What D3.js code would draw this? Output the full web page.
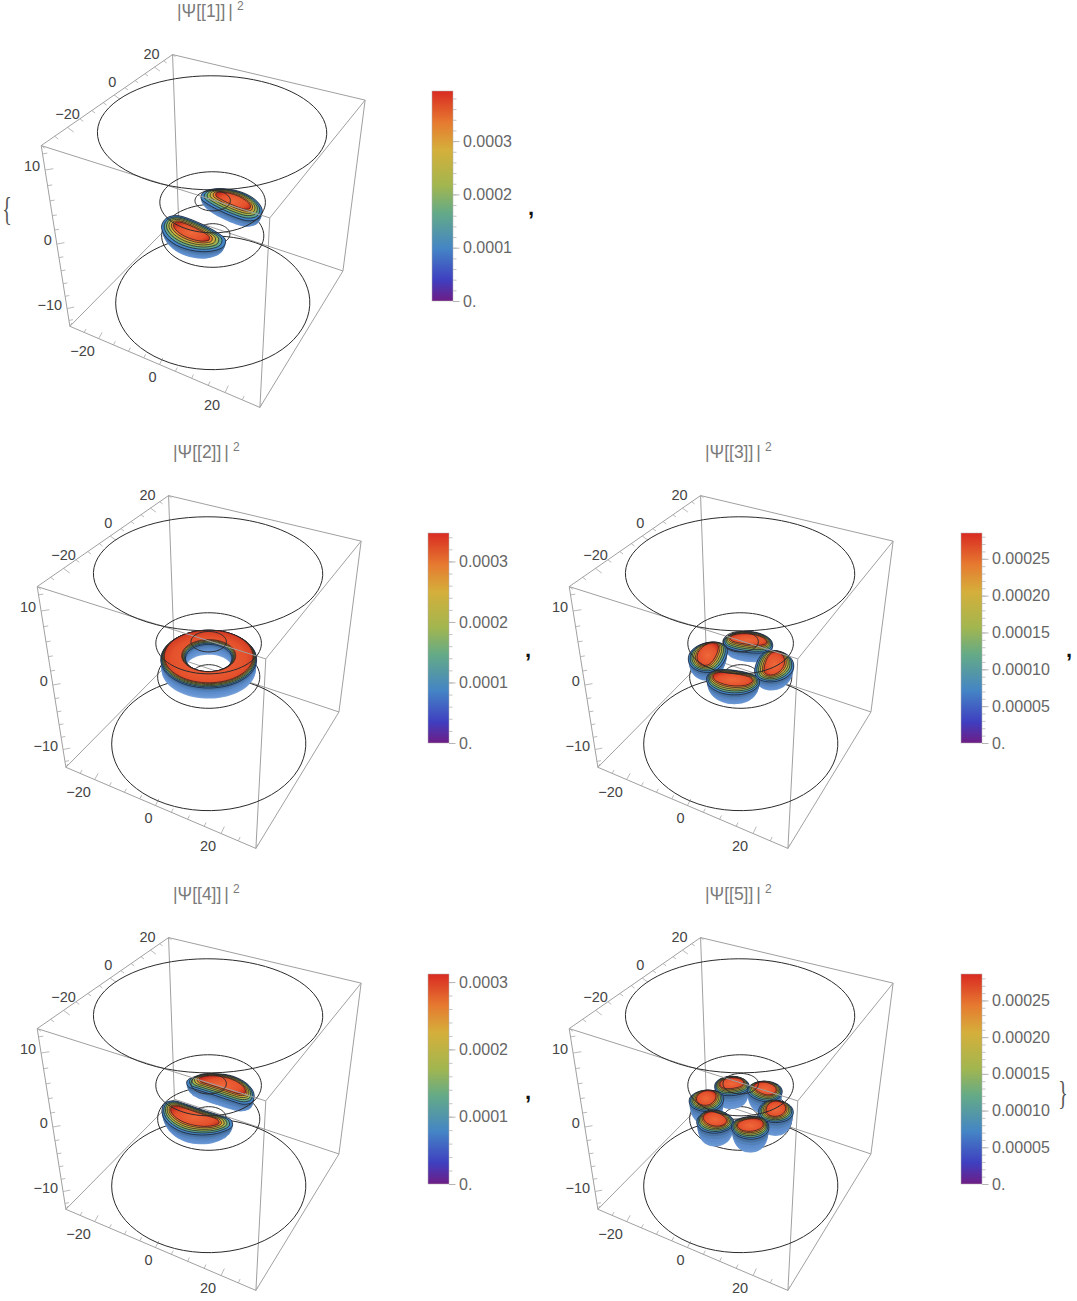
<!DOCTYPE html>
<html><head><meta charset="utf-8">
<script src="https://cdn.jsdelivr.net/npm/d3@7"></script>
<style>html,body{margin:0;padding:0;background:#fff}svg{display:block}text{font-family:"Liberation Sans",Arial,sans-serif}</style>
</head><body><svg id="c" width="1077" height="1301" viewBox="0 0 1077 1301"></svg>
<script>
// ---- data ----
const panelNames = [1, 2, 3, 4, 5];
const legendMax = [0.000394, 0.000347, 0.000285, 0.000312, 0.000286];
const legendTicks = [
  [0, 0.0001, 0.0002, 0.0003],
  [0, 0.0001, 0.0002, 0.0003],
  [0, 0.00005, 0.0001, 0.00015, 0.0002, 0.00025],
  [0, 0.0001, 0.0002, 0.0003],
  [0, 0.00005, 0.0001, 0.00015, 0.0002, 0.00025]
];
const legendTickLabels = [
  ["0.", "0.0001", "0.0002", "0.0003"],
  ["0.", "0.0001", "0.0002", "0.0003"],
  ["0.", "0.00005", "0.00010", "0.00015", "0.00020", "0.00025"],
  ["0.", "0.0001", "0.0002", "0.0003"],
  ["0.", "0.00005", "0.00010", "0.00015", "0.00020", "0.00025"]
];
const legendMinorStep = [0.00002, 0.00002, 0.00001, 0.00002, 0.00001];
const rainbowStops = [0, 0.1, 0.25, 0.42, 0.55, 0.72, 0.85, 1];
const rainbowColors = ["#6e1d85", "#3f3fc0", "#4485c5", "#64aa87", "#a2b64f", "#d5af3b", "#e67a30", "#d92a22"];
const horizontalTicks = [-20, 0, 20];
const verticalTicks = [-10, 0, 10];
const boxHalfWidth = 30, boxHalfHeight = 13;
const ringRadii = [28.8, 14.3, 4.8, 14.3, 4.8, 28.8];
const ringHeights = [12.5, 2.4, 2.4, -2.6, -2.6, -12.7];
// lobes per panel: centre angle (deg), centre radius, half length, half width, bend, rim height, hull drop
const lobeAngles = [[80, -100], [], [15, 105, 195, 285], [90, -90], [14, 74, 134, 194, 254, 314]];
const lobeRadius = [9.6, 9.8, 9.6, 9.2, 10];
const lobeReach = [10, 0, 7.2, 10.5, 5];
const lobeHalfWidth = [5.6, 3.4, 5.2, 5.4, 4.8];
const lobeBend = [1.6, 0, 1, 3, 0.5];
const rimHeight = [-0.2, 0, -0.5, -0.4, -0.9];
const hullDrop = [1.7, 1.6, 2.0, 2.0, 2.6];
const coreRadial = [0.4, 0.7, 0.5, 0.5, 0.55];
const coreAngular = [0.6, 1, 0.75, 0.7, 0.7];
const lobeOutline = [[-1,0],[-.86,.55],[-.5,.88],[0,1],[.5,.88],[.86,.55],[1,0],[.86,-.55],[.5,-.88],[0,-1],[-.5,-.88],[-.86,-.55]];
const contourLevels = [0.25, 0.40, 0.55, 0.70, 0.85, 0.97];
const contourStep = [0, 0.22, 0.42, 0.62, 0.82, 1];
const contourLift = [0, 0.1, 0.2, 0.28, 0.34, 0.4];
const hullSpread = [0.66, 0.8, 0.89, 0.95, 0.98, 1, 1];
const hullDepth = [1, 0.88, 0.72, 0.54, 0.36, 0.18, 0];
const hullColors = ["#719cd7", "#6a97d4", "#6391cf", "#5c8bca", "#5280b8", "#47709f", "#3d6288"];
const xLabelShift = [-16, -7, -13];
const yLabelShift = [0, -2, -3];

// ---- layout ----
const panelOffset = [[0,0],[-4,441],[528,441],[-4,883],[528,883]];
const legendLeft = [432, 428, 961, 428, 961];
const legendTop = [91, 533, 533, 974, 974];
const legendHeight = 210, legendWidth = 21;
const frameCorners = [
  [-30,-30, 13, 42,146],[30,-30, 13,270,217],[30,30, 13,366,100],[-30,30, 13,171,55],
  [-30,-30,-13, 69,327],[30,-30,-13,260,407],[30,30,-13,342,272],[-30,30,-13,180,215]
];

const svg = d3.select("#c");
const defs = svg.append("defs");
const color = d3.scaleLinear().domain(rainbowStops).range(rainbowColors).interpolate(d3.interpolateRgb);
const grad = defs.append("linearGradient").attr("id","rain").attr("x1",0).attr("y1",1).attr("x2",0).attr("y2",0);
rainbowStops.forEach((s,i)=>grad.append("stop").attr("offset",s).attr("stop-color",rainbowColors[i]));
const core = defs.append("radialGradient").attr("id","core").attr("cx",.5).attr("cy",.55).attr("r",.6);
core.append("stop").attr("offset",0).attr("stop-color","#f0683a");
core.append("stop").attr("offset",.7).attr("stop-color","#e4512c");
core.append("stop").attr("offset",1).attr("stop-color","#c9301f");
defs.append("filter").attr("id","soft").append("feGaussianBlur").attr("stdDeviation",0.35);

// ---- camera (perspective matrix fitted to the frame's corners) ----
const normH = d3.scaleLinear().domain([-boxHalfWidth,boxHalfWidth]).range([-1,1]);
const normV = d3.scaleLinear().domain([-boxHalfHeight,boxHalfHeight]).range([-1,1]);
const normI = d3.scaleLinear().domain([0,400]).range([-1,1]);
function fitCamera(pts){
  const rows=[],rhs=[];
  pts.forEach(([x,y,z,u,v])=>{
    const X=normH(x),Y=normH(y),Z=normV(z),U=normI(u),V=normI(v);
    rows.push([X,Y,Z,1,0,0,0,0,-U*X,-U*Y,-U*Z]);rhs.push(U);
    rows.push([0,0,0,0,X,Y,Z,1,-V*X,-V*Y,-V*Z]);rhs.push(V);
  });
  const n=11,M=d3.range(n).map(i=>d3.range(n+1).map(j=>{
    let s=0;rows.forEach((r,k)=>{s+=r[i]*(j<n?r[j]:rhs[k]);});return s;}));
  for(let i=0;i<n;i++){
    let p=i;for(let k=i+1;k<n;k++)if(Math.abs(M[k][i])>Math.abs(M[p][i]))p=k;
    [M[i],M[p]]=[M[p],M[i]];
    for(let k=0;k<n;k++)if(k!==i){const f=M[k][i]/M[i][i];for(let j=i;j<=n;j++)M[k][j]-=f*M[i][j];}
  }
  return M.map((r,i)=>r[n]/r[i]);
}
const cam = fitCamera(frameCorners);
function project(x,y,z){
  const X=normH(x),Y=normH(y),Z=normV(z);
  const w=cam[8]*X+cam[9]*Y+cam[10]*Z+1;
  return [normI.invert((cam[0]*X+cam[1]*Y+cam[2]*Z+cam[3])/w),normI.invert((cam[4]*X+cam[5]*Y+cam[6]*Z+cam[7])/w)];
}
const rad=d=>d*Math.PI/180;
const polar=(r,t,z)=>project(r*Math.cos(t),r*Math.sin(t),z);
const openLine=d3.line();
const circleAngles=d3.range(0,360,5);
const closedLine=d3.line().curve(d3.curveLinearClosed);
const smoothClosed=d3.line().curve(d3.curveCatmullRomClosed.alpha(0.5));
const ringPath=(r,z)=>closedLine(circleAngles.map(a=>polar(r,rad(a),z)));

function lobePath(i,deg,sa,sr,z){
  const r0=lobeRadius[i],reach=lobeReach[i],hw=lobeHalfWidth[i],bend=lobeBend[i];
  if(reach===0) return ringPath(r0+hw*sr,z)+ringPath(Math.max(r0-hw*sr,0.1),z);
  const t=rad(deg),c=Math.cos(t),s=Math.sin(t);
  return smoothClosed(lobeOutline.map(([u,v])=>{
    const along=u*reach*sa, out=r0+v*hw*sr-bend*u*u*sa*sa;
    return project(c*out-s*along,s*out+c*along,z);
  }));
}
function drawLobe(g,i,deg){
  const rim=rimHeight[i],isRing=lobeReach[i]===0;
  const l=g.append("g");
  hullSpread.forEach((sp,k)=>{
    l.append("path").attr("d",lobePath(i,deg,sp,isRing?0.9+0.1*sp:sp,rim-hullDepth[k]*hullDrop[i]))
     .attr("fill",hullColors[k]).attr("fill-rule","evenodd").attr("opacity",k===0?.95:.92);
  });
  contourLevels.forEach((lv,k)=>{
    const sr=1-(1-coreRadial[i])*contourStep[k], sa=1-(1-coreAngular[i])*contourStep[k];
    l.append("path").attr("d",lobePath(i,deg,sa,sr,rim+contourLift[k]))
     .attr("fill",k===contourLevels.length-1?"url(#core)":color(lv))
     .attr("fill-rule","evenodd")
     .attr("stroke","#15131f").attr("stroke-width",.8).attr("stroke-opacity",.85);
  });
}

panelNames.forEach((name,i)=>{
  const [dx,dy]=panelOffset[i];
  const g=svg.append("g").attr("transform",`translate(${dx},${dy})`);
  const hw=boxHalfWidth,hh=boxHalfHeight;
  const edge=(a,b,parent=g)=>parent.append("path").attr("d",openLine([project(...a),project(...b)]))
     .attr("fill","none").attr("stroke","#a0a0a0").attr("stroke-width",1);
  // lower box edges and verticals
  [[-hw,-hw],[hw,-hw],[hw,hw],[-hw,hw]].forEach(([x,y],k,arr)=>{
    edge([x,y,-hh],[x,y,hh]);
    const n=arr[(k+1)%4]; edge([x,y,-hh],[n[0],n[1],-hh]);
  });
  // ticks
  const tick=(a,b)=>g.append("path").attr("d",openLine([project(...a),project(...b)]))
     .attr("stroke","#a8a8a8").attr("stroke-width",.8).attr("fill","none");
  d3.range(-30,31,5).forEach(v=>{
    const L=horizontalTicks.includes(v)?1.8:1;
    tick([v,-hw,-hh],[v,-hw+L,-hh+L*.2]);
    tick([-hw,v,hh],[-hw+L,v,hh-L*.2]);
  });
  d3.range(-12,13,2).forEach(v=>{
    const L=verticalTicks.includes(v)?1.4:.8;
    tick([-hw,-hw,v],[-hw+L,-hw+L,v]);
  });
  const label=(p,txt,ox,oy,anchor="middle")=>g.append("text").attr("x",p[0]+ox).attr("y",p[1]+oy)
     .attr("text-anchor",anchor).attr("dominant-baseline","central").attr("font-size",14.5).attr("fill","#444").text(txt);
  const fmt=v=>v<0?"\u2212"+(-v):""+v;
  horizontalTicks.forEach((v,k)=>{
    label(project(v,-hw,-hh),fmt(v),xLabelShift[k],12);
    label(project(-hw,v,hh),fmt(v),yLabelShift[k],-13);
  });
  verticalTicks.forEach(v=>label(project(-hw,-hw,v),fmt(v),-5,-4,"end"));
  // rings below the blobs
  const ring=(k)=>g.append("path").attr("d",ringPath(ringRadii[k],ringHeights[k]))
     .attr("fill","none").attr("stroke","#2b2b2b").attr("stroke-width",1);
  [5,3,4].forEach(ring);
  // blobs
  const blobs=g.append("g").attr("filter","url(#soft)");
  const angs=lobeAngles[i].length?lobeAngles[i]:[0];
  angs.slice().sort((a,b)=>polar(lobeRadius[i],rad(a),0)[1]-polar(lobeRadius[i],rad(b),0)[1])
      .forEach(a=>drawLobe(blobs,i,a));
  // things above the blobs
  [[-hw,-hw],[hw,-hw],[hw,hw],[-hw,hw]].forEach(([x,y],k,arr)=>{
    const n=arr[(k+1)%4]; edge([x,y,hh],[n[0],n[1],hh]);
  });
  [1,2,0].forEach(ring);
  // title
  const t=g.append("text").attr("x",177).attr("y",17).attr("font-size",17.5).attr("fill","#7a7a7a");
  t.append("tspan").text(`|\u03A8[[${name}]]`);
  t.append("tspan").attr("dx",3).text("|");
  t.append("tspan").attr("dx",4).attr("dy",-7).attr("font-size",12).text("2");
  // legend
  const L=svg.append("g").attr("transform",`translate(${legendLeft[i]},${legendTop[i]})`);
  const y=d3.scaleLinear().domain([0,legendMax[i]]).range([legendHeight,0]);
  L.append("rect").attr("width",legendWidth).attr("height",legendHeight).attr("fill","url(#rain)")
    .attr("stroke","#b0b0b0").attr("stroke-width",.5);
  const minor=d3.axisRight(y).tickValues(d3.range(0,legendMax[i],legendMinorStep[i])).tickSize(3.5).tickFormat("");
  L.append("g").attr("transform",`translate(${legendWidth},0)`).call(minor)
    .call(s=>s.select(".domain").remove()).call(s=>s.selectAll("line").attr("stroke","#c4c4c4"));
  const major=d3.axisRight(y).tickValues(legendTicks[i]).tickSize(6.5).tickPadding(3.5)
    .tickFormat((d,k)=>legendTickLabels[i][k]);
  L.append("g").attr("transform",`translate(${legendWidth},0)`).call(major)
    .call(s=>s.select(".domain").remove()).call(s=>s.selectAll("line").attr("stroke","#b4b4b4"))
    .call(s=>s.selectAll("text").attr("font-size",16).attr("fill","#666").attr("font-family",'"Liberation Sans",Arial,sans-serif'));
});

// separators
const seps=[[531,210],[528,652],[1069,652],[528,1094]];
seps.forEach(([x,y])=>svg.append("text").attr("x",x).attr("y",y+5).attr("text-anchor","middle")
  .attr("font-size",22).attr("font-weight","bold").attr("fill","#111").attr("font-family","Liberation Serif, serif").text(","));
const brace=(x,y,s)=>svg.append("text").attr("transform",`translate(${x},${y}) scale(0.62,1.05)`).attr("text-anchor","middle")
  .attr("dominant-baseline","central").attr("font-size",32).attr("fill","#555").style("font-family","Liberation Serif, serif").text(s);
brace(7,208,"{");
brace(1063,1092,"}");
</script></body></html>
